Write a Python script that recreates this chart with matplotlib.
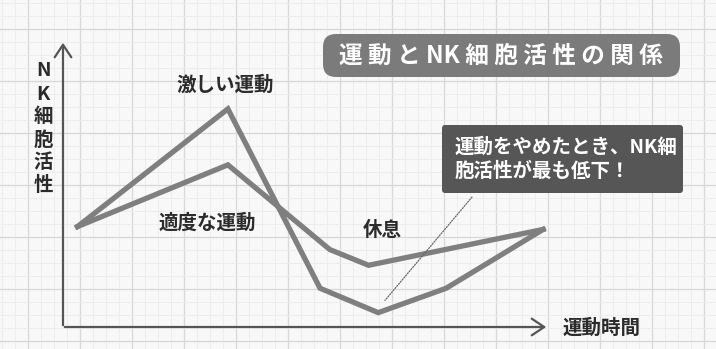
import matplotlib
matplotlib.use("Agg")
import matplotlib.pyplot as plt
from matplotlib.patches import FancyBboxPatch

plt.rcParams['font.family'] = ['Noto Sans CJK JP', 'DejaVu Sans']

# Exercise timeline (arbitrary units) and NK-cell activity for each regime
time_intense = [0.3, 3.4, 5.3, 6.5, 7.9, 9.9]
nk_intense = [3.5, 7.6, 1.35, 0.5, 1.35, 3.4]
time_moderate = [0.3, 3.4, 5.5, 6.3, 9.9]
nk_moderate = [3.5, 5.65, 2.7, 2.15, 3.4]

title = "運 動 と NK 細 胞 活 性 の 関 係"
label_intense = "激しい運動"
label_moderate = "適度な運動"
label_rest = "休息"
x_label = "運動時間"
y_label = "NK細胞活性"
callout = "運動をやめたとき、NK細\n胞活性が最も低下！"

W, H = 716, 349
fig = plt.figure(figsize=(W / 100, H / 100), dpi=100)
fig.patch.set_facecolor("#f8f8f8")

# Background sheet in pixel coordinates: graph-paper grid, boxes, axis arrows
bg = fig.add_axes([0, 0, 1, 1], zorder=0)
bg.set_xlim(0, W)
bg.set_ylim(H, 0)
bg.axis("off")
for gx in range(2, W, 13):
    major = (gx - 28) % 52 == 0
    bg.axvline(gx, color="#d8d8d8" if major else "#ececec", lw=0.9 if major else 0.6, zorder=0)
for gy in range(3, H, 13):
    major = (gy - 29) % 52 == 0
    bg.axhline(gy, color="#d8d8d8" if major else "#ececec", lw=0.9 if major else 0.6, zorder=0)

# Axis arrows
axis_col = "#555555"
bg.annotate("", xy=(63, 40), xytext=(63, 328),
            arrowprops=dict(arrowstyle="->,head_length=0.9,head_width=0.6", color=axis_col, lw=1.6))
bg.annotate("", xy=(549, 327), xytext=(62, 327),
            arrowprops=dict(arrowstyle="->,head_length=0.9,head_width=0.6", color=axis_col, lw=1.6))

# Title box
bg.add_patch(FancyBboxPatch((323, 34), 357, 43, boxstyle="round,pad=0,rounding_size=13",
                            fc="#7b7b7b", ec="none", zorder=2))
bg.text(501, 56, title, color="white", fontsize=17, fontweight="bold",
        ha="center", va="center", zorder=3)

# Callout box
bg.add_patch(FancyBboxPatch((442, 125), 241, 68, boxstyle="round,pad=0,rounding_size=3",
                            fc="#565656", ec="none", zorder=2))
bg.text(455, 159, callout, color="white", fontsize=14, fontweight="bold",
        ha="left", va="center", linespacing=1.3, zorder=3)

# Data axes
ax = fig.add_axes([63 / W, (H - 327) / H, (548 - 63) / W, (327 - 40) / H], zorder=1)
ax.set_xlim(0, 10)
ax.set_ylim(0, 10)
ax.patch.set_alpha(0)
ax.axis("off")

line_col = "#7f7f7f"
ax.plot(time_moderate, nk_moderate, color=line_col, lw=3.8, solid_joinstyle="miter", zorder=3)
ax.plot(time_intense, nk_intense, color=line_col, lw=3.8, solid_joinstyle="miter", zorder=3)

# Dotted leader from the callout to the lowest point after intense exercise
i_min = nk_intense.index(min(nk_intense))
ax.annotate("", xy=(time_intense[i_min] + 0.1, nk_intense[i_min] + 0.35),
            xytext=(8.47, 4.6),
            arrowprops=dict(arrowstyle="-", color="#666666", lw=0.9, linestyle=(0, (1.0, 1.2))),
            zorder=4)

txt_col = "#2b2b2b"
bg.text(225, 85, label_intense, color=txt_col, fontsize=14, fontweight="bold", ha="center", va="center")
bg.text(207, 223, label_moderate, color=txt_col, fontsize=14, fontweight="bold", ha="center", va="center")
bg.text(382, 230, label_rest, color=txt_col, fontsize=14, fontweight="bold", ha="center", va="center")
bg.text(602, 328, x_label, color=txt_col, fontsize=14, fontweight="bold", ha="center", va="center")

# Vertical stacked y label
y_chars = list(y_label)
y_pos = [70, 94, 117, 140, 162, 185]
for ch, yp in zip(y_chars, y_pos):
    bg.text(43, yp, ch, color=txt_col, fontsize=14, fontweight="bold", ha="center", va="center")

fig.savefig("out.png", dpi=100, facecolor=fig.get_facecolor())
